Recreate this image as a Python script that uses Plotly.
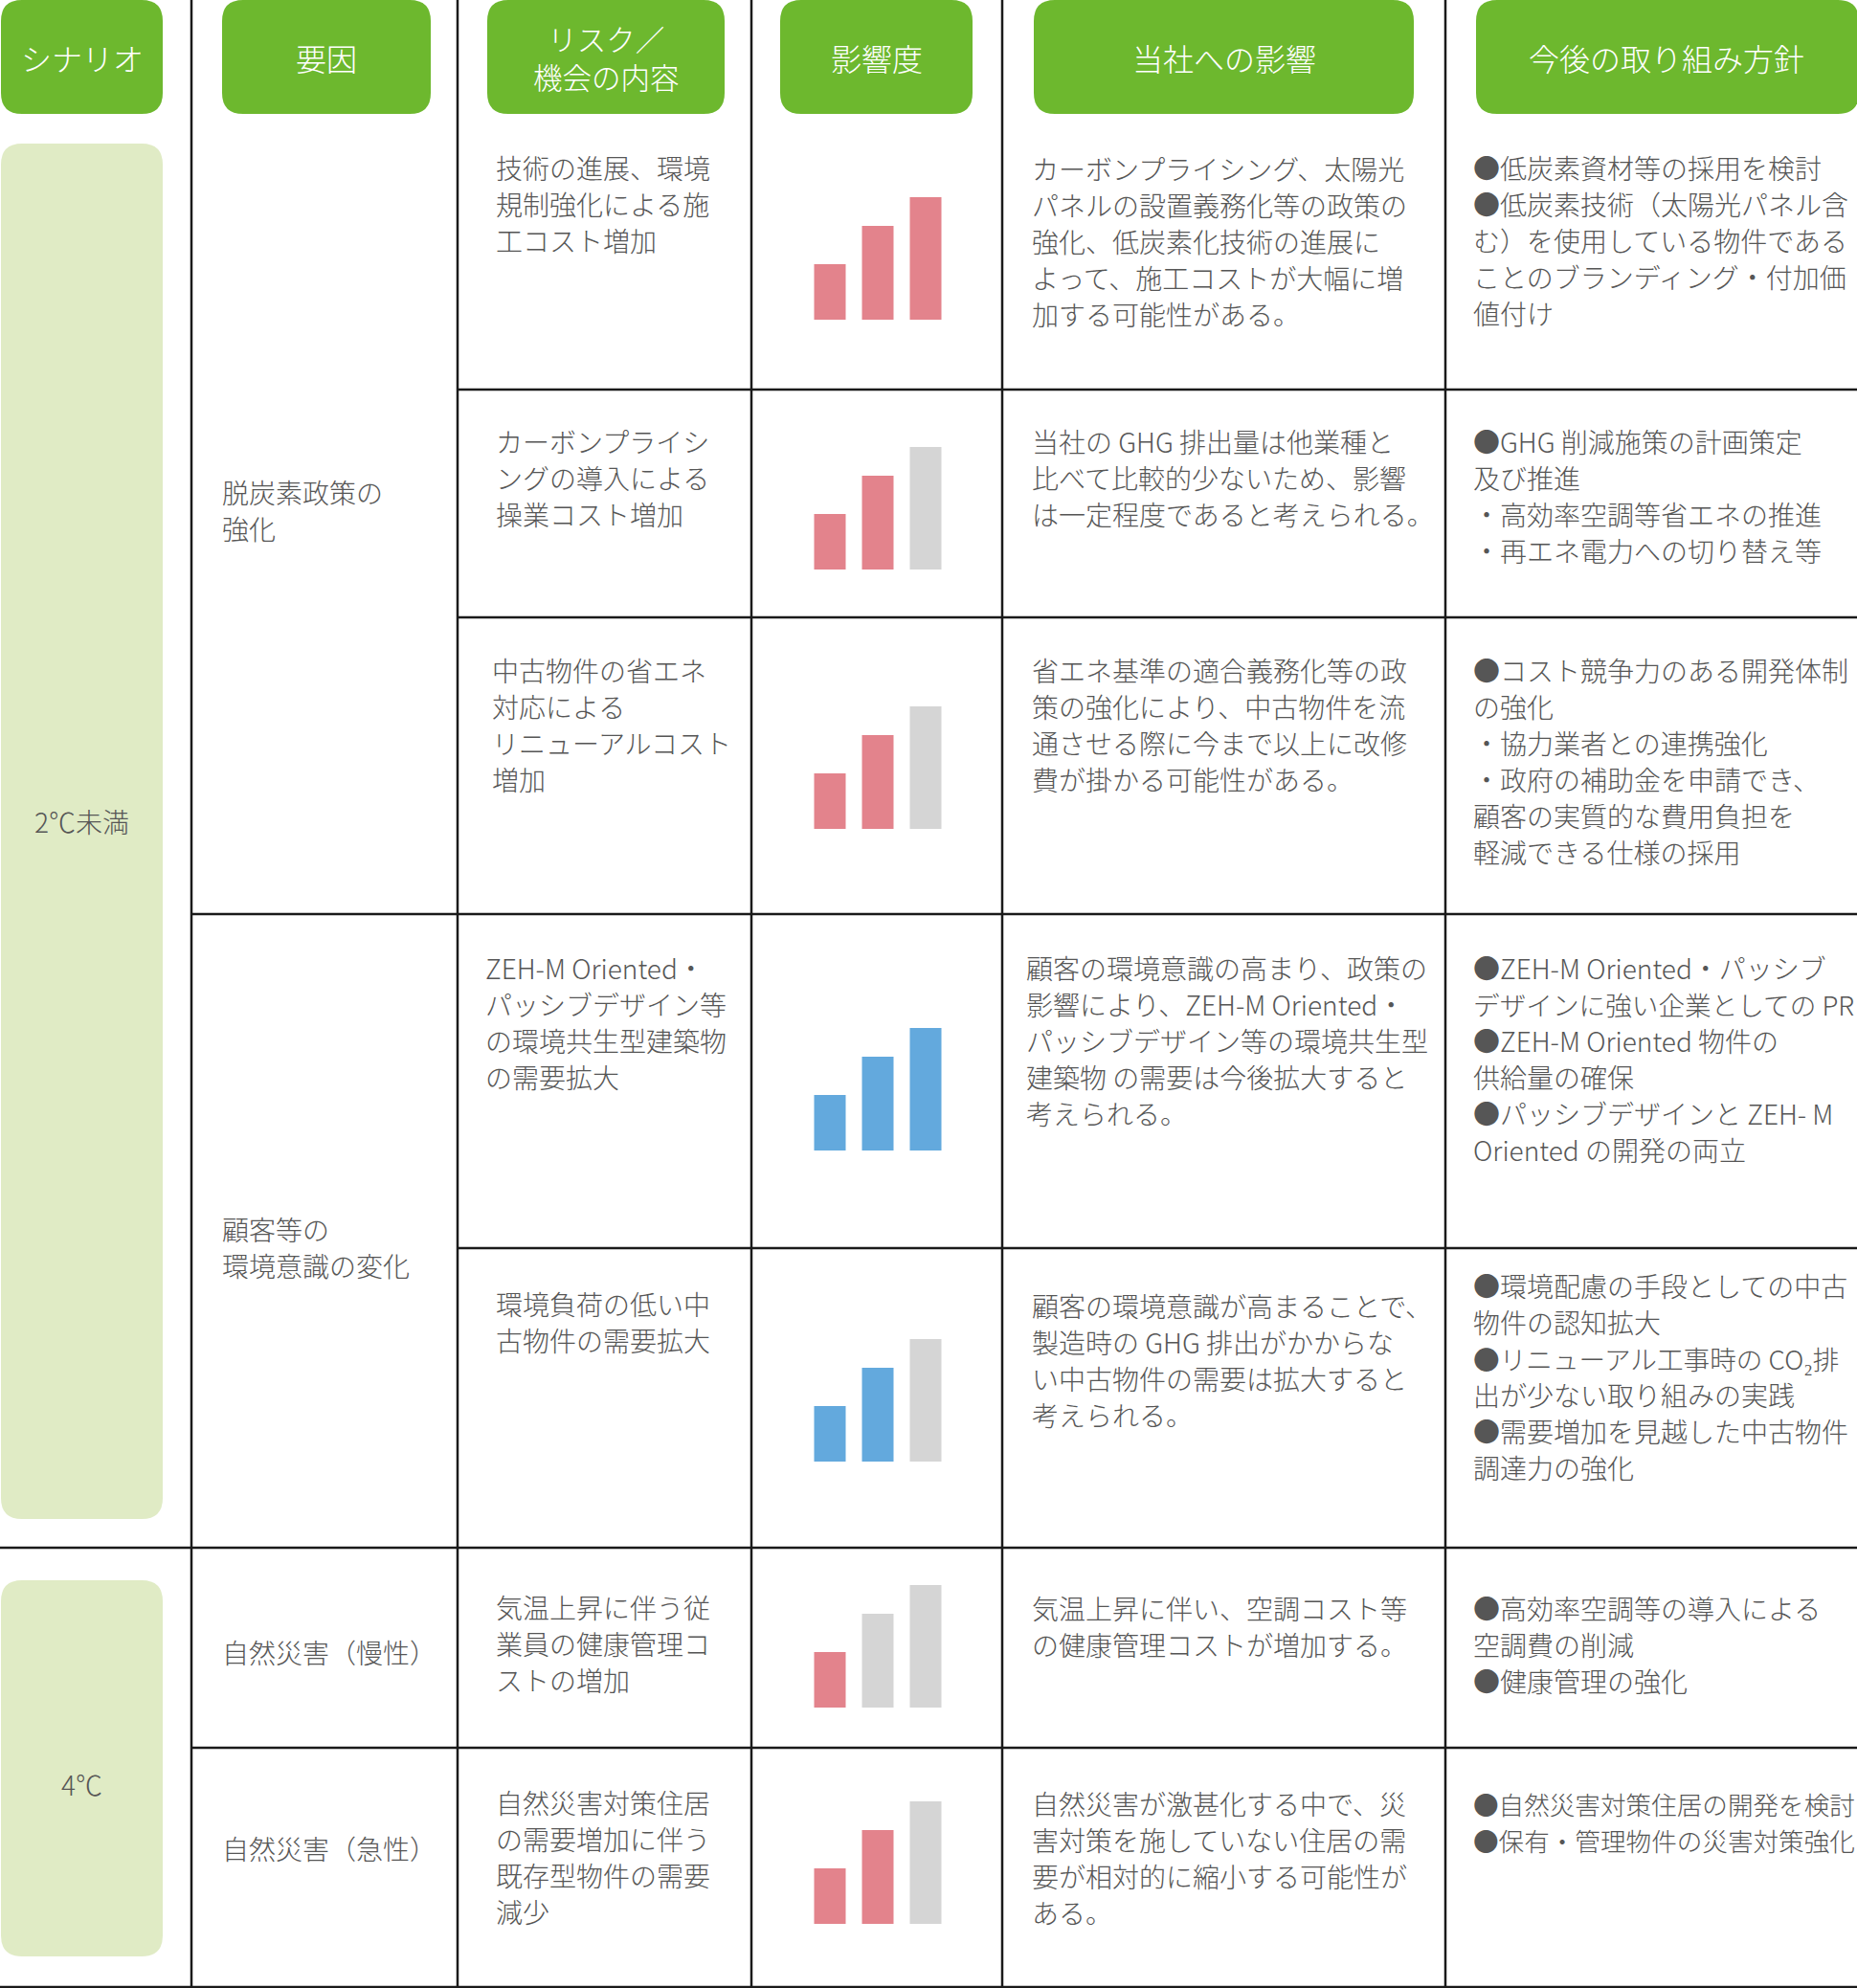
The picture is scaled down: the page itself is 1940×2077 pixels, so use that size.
import re
import plotly.graph_objects as go

W, H = 1940, 2077

# ---------------- data ----------------
headers = ["シナリオ", "要因", "リスク／<br>機会の内容", "影響度", "当社への影響", "今後の取り組み方針"]
scenarios = ["2℃未満", "4℃"]
factors = [["脱炭素政策の", "強化"], ["顧客等の", "環境意識の変化"], ["自然災害（慢性）"], ["自然災害（急性）"]]

risk_items = [
    ["技術の進展、環境", "規制強化による施", "工コスト増加"],
    ["カーボンプライシ", "ングの導入による", "操業コスト増加"],
    ["中古物件の省エネ", "対応による", "リニューアルコスト", "増加"],
    ["ZEH-M Oriented・", "パッシブデザイン等", "の環境共生型建築物", "の需要拡大"],
    ["環境負荷の低い中", "古物件の需要拡大"],
    ["気温上昇に伴う従", "業員の健康管理コ", "ストの増加"],
    ["自然災害対策住居", "の需要増加に伴う", "既存型物件の需要", "減少"],
]
impacts = [
    ["カーボンプライシング、太陽光", "パネルの設置義務化等の政策の", "強化、低炭素化技術の進展に",
     "よって、施工コストが大幅に増", "加する可能性がある。"],
    ["当社の GHG 排出量は他業種と", "比べて比較的少ないため、影響", "は一定程度であると考えられる。"],
    ["省エネ基準の適合義務化等の政", "策の強化により、中古物件を流", "通させる際に今まで以上に改修",
     "費が掛かる可能性がある。"],
    ["顧客の環境意識の高まり、政策の", "影響により、ZEH-M Oriented・", "パッシブデザイン等の環境共生型",
     "建築物 の需要は今後拡大すると", "考えられる。"],
    ["顧客の環境意識が高まることで、", "製造時の GHG 排出がかからな", "い中古物件の需要は拡大すると",
     "考えられる。"],
    ["気温上昇に伴い、空調コスト等", "の健康管理コストが増加する。"],
    ["自然災害が激甚化する中で、災", "害対策を施していない住居の需", "要が相対的に縮小する可能性が",
     "ある。"],
]
policies = [
    ["●低炭素資材等の採用を検討", "●低炭素技術（太陽光パネル含", "む）を使用している物件である",
     "ことのブランディング・付加価", "値付け"],
    ["●GHG 削減施策の計画策定", "及び推進", "・高効率空調等省エネの推進", "・再エネ電力への切り替え等"],
    ["●コスト競争力のある開発体制", "の強化", "・協力業者との連携強化", "・政府の補助金を申請でき、",
     "顧客の実質的な費用負担を", "軽減できる仕様の採用"],
    ["●ZEH-M Oriented・パッシブ", "デザインに強い企業としての PR", "●ZEH-M Oriented 物件の",
     "供給量の確保", "●パッシブデザインと ZEH- M", "Oriented の開発の両立"],
    ["●環境配慮の手段としての中古", "物件の認知拡大", "●リニューアル工事時の CO₂排",
     "出が少ない取り組みの実践", "●需要増加を見越した中古物件", "調達力の強化"],
    ["●高効率空調等の導入による", "空調費の削減", "●健康管理の強化"],
    ["●自然災害対策住居の開発を検討", "●保有・管理物件の災害対策強化"],
]
impact_level = [3, 2, 2, 3, 2, 1, 2]
item_type = ["リスク", "リスク", "リスク", "機会", "機会", "リスク", "リスク"]
icon_bar_heights = [58, 98, 128]

# ---------------- layout / style ----------------
GREEN = "#6db82e"
LIGHT = "#e0ebc5"
PINK = "#e3838c"
BLUE = "#63a9dd"
GRAY = "#d5d5d5"
TXT = "#565656"
LINE = "#1a1a1a"
FONT = "Noto Sans CJK JP"
BODY = 28
LS = 38  # line spacing

col_lines_x = [200, 478, 785, 1047, 1510]
row_edges = [119, 407, 645, 955, 1304, 1617, 1826, 2076]
header_boxes = [(1, 170), (232, 450), (509, 757), (815, 1016), (1080, 1477), (1542, 1942)]
scen_boxes = [(150, 1587), (1651, 2044)]
scen_label_y = [858, 1864]

factor_x = 230
factor_y = [514, 1284, 1726, 1931]
risk_x = [516, 516, 512, 505, 516, 516, 516]
risk_y = [175, 461, 700, 1011, 1362, 1679, 1883]
imp_x = [1076, 1076, 1076, 1070, 1076, 1076, 1076]
imp_y = [176, 461, 700, 1011, 1364, 1680, 1884]
pol_x = 1537
pol_y = [175, 461, 700, 1011, 1343, 1680, 1884]
icon_mid_y = [270, 531, 802, 1138, 1463, 1720, 1946]
bar_cx = 917
bar_dx = 50
bar_w = 33


def rrect(x0, y0, x1, y1, r):
    return (f"M {x0+r},{y0} L {x1-r},{y0} Q {x1},{y0} {x1},{y0+r} L {x1},{y1-r} "
            f"Q {x1},{y1} {x1-r},{y1} L {x0+r},{y1} Q {x0},{y1} {x0},{y1-r} "
            f"L {x0},{y0+r} Q {x0},{y0} {x0+r},{y0} Z")


def em_width(s):
    s = re.sub(r"<[^>]+>", "", s)
    w = 0.0
    for ch in s:
        if ord(ch) < 0x2000:
            w += 0.58 if ch != " " else 0.28
        else:
            w += 1.0
    return w


shapes = []
annotations = []

# header pills
for (x0, x1), h in zip(header_boxes, headers):
    shapes.append(dict(type="path", path=rrect(x0, 0, x1, 119, 22), fillcolor=GREEN,
                       line=dict(width=0), layer="below"))
    cx = (x0 + min(x1, W)) / 2
    annotations.append(dict(x=cx, y=60, text=h, showarrow=False, xanchor="center", yanchor="middle",
                            align="center",
                            font=dict(family=FONT, size=32 if "<br>" not in h else 30.5,
                                      color="white", weight=300)))

# scenario pills
for (y0, y1), lab, ly in zip(scen_boxes, scenarios, scen_label_y):
    shapes.append(dict(type="path", path=rrect(1, y0, 170, y1, 22), fillcolor=LIGHT,
                       line=dict(width=0), layer="below"))
    annotations.append(dict(x=85.5, y=ly, text=lab, showarrow=False, xanchor="center", yanchor="middle",
                            font=dict(family=FONT, size=BODY, color=TXT, weight=300)))

# grid lines
for x in col_lines_x:
    shapes.append(dict(type="line", x0=x, x1=x, y0=0, y1=H, line=dict(color=LINE, width=2.5), layer="below"))
hlines = [(row_edges[1], 478), (row_edges[2], 478), (row_edges[3], 200), (row_edges[4], 478),
          (row_edges[5], 0), (row_edges[6], 200), (row_edges[7], 0)]
for y, x0 in hlines:
    shapes.append(dict(type="line", x0=x0, x1=W, y0=y, y1=y, line=dict(color=LINE, width=2.5), layer="below"))


def add_block(x, y0, lines, limit):
    for i, t in enumerate(lines):
        size = min(BODY, (limit - x) / em_width(t))
        annotations.append(dict(x=x, y=y0 + i * LS, text=t, showarrow=False, xanchor="left",
                                yanchor="middle", align="left",
                                font=dict(family=FONT, size=size, color=TXT, weight=300)))


for f, y in zip(factors, factor_y):
    add_block(factor_x, y, f, 470)
for i in range(len(risk_items)):
    add_block(risk_x[i], risk_y[i], risk_items[i], 780)
    add_block(imp_x[i], imp_y[i], impacts[i], 1505)
    add_block(pol_x, pol_y[i], policies[i], 1936)

# impact icons (bars)
bx, bbase, bval, bcol = [], [], [], []
for i, (lvl, kind) in enumerate(zip(impact_level, item_type)):
    bottom = icon_mid_y[i] + icon_bar_heights[-1] / 2
    on = PINK if kind == "リスク" else BLUE
    for j, h in enumerate(icon_bar_heights):
        bx.append(bar_cx + (j - 1) * bar_dx)
        bbase.append(bottom)
        bval.append(-h)
        bcol.append(on if j < lvl else GRAY)

fig = go.Figure(go.Bar(x=bx, y=bval, base=bbase, width=bar_w, marker=dict(color=bcol, line=dict(width=0)),
                       hoverinfo="skip"))

fig.update_layout(
    width=W, height=H, margin=dict(l=0, r=0, t=0, b=0),
    paper_bgcolor="white", plot_bgcolor="white", showlegend=False,
    xaxis=dict(range=[0, W], visible=False, fixedrange=True),
    yaxis=dict(range=[H, 0], visible=False, fixedrange=True),
    shapes=shapes, annotations=annotations,
)

fig.write_html("out.html", config={"displayModeBar": False},
               post_script="document.body.style.margin='0';")
